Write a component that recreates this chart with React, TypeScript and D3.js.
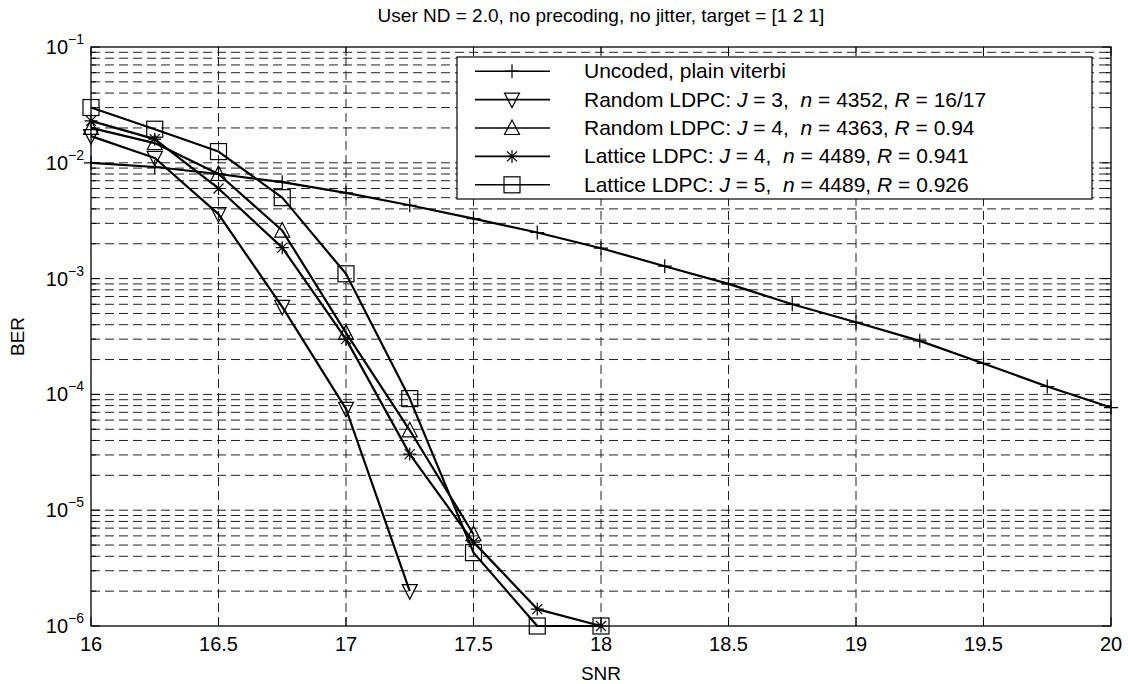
import React from "react";
import * as d3 from "d3";

// SNR grid shared by the coded curves
const snrCoded = [16, 16.25, 16.5, 16.75, 17, 17.25, 17.5, 17.75, 18];
const snrUncoded = [16, 16.25, 16.5, 16.75, 17, 17.25, 17.5, 17.75, 18, 18.25, 18.5, 18.75, 19, 19.25, 19.5, 19.75, 20];

const berUncoded = [1.0e-2, 9.2e-3, 8.0e-3, 6.8e-3, 5.5e-3, 4.3e-3, 3.3e-3, 2.5e-3, 1.83e-3, 1.28e-3, 9.0e-4, 6.0e-4, 4.2e-4, 2.9e-4, 1.85e-4, 1.17e-4, 7.7e-5];
const berRandomJ3 = [1.7e-2, 1.1e-2, 3.6e-3, 5.7e-4, 7.5e-5, 2.0e-6];
const berRandomJ4 = [2.0e-2, 1.48e-2, 8.0e-3, 2.6e-3, 3.4e-4, 4.9e-5, 6.2e-6];
const berLatticeJ4 = [2.3e-2, 1.6e-2, 6.0e-3, 1.85e-3, 3.0e-4, 3.05e-5, 5.3e-6, 1.4e-6, 1.0e-6];
const berLatticeJ5 = [3.0e-2, 1.95e-2, 1.25e-2, 5.0e-3, 1.1e-3, 9.2e-5, 4.3e-6, 1.0e-6, 1.0e-6];

const xTicks = [16, 16.5, 17, 17.5, 18, 18.5, 19, 19.5, 20];
const yDecades = [-1, -2, -3, -4, -5, -6];

const titleText = "User ND = 2.0, no precoding, no jitter, target = [1 2 1]";

type Marker = "plus" | "tdown" | "tup" | "star" | "square";

type Series = {
  marker: Marker;
  snr: number[];
  ber: number[];
  label: { pre: string; parts?: [string, string][] };
};

const series: Series[] = [
  { marker: "plus", snr: snrUncoded, ber: berUncoded, label: { pre: "Uncoded, plain viterbi" } },
  {
    marker: "tdown", snr: snrCoded.slice(0, berRandomJ3.length), ber: berRandomJ3,
    label: { pre: "Random LDPC: ", parts: [["J", " = 3,  "], ["n", " = 4352, "], ["R", " = 16/17"]] },
  },
  {
    marker: "tup", snr: snrCoded.slice(0, berRandomJ4.length), ber: berRandomJ4,
    label: { pre: "Random LDPC: ", parts: [["J", " = 4,  "], ["n", " = 4363, "], ["R", " = 0.94"]] },
  },
  {
    marker: "star", snr: snrCoded.slice(0, berLatticeJ4.length), ber: berLatticeJ4,
    label: { pre: "Lattice LDPC: ", parts: [["J", " = 4,  "], ["n", " = 4489, "], ["R", " = 0.941"]] },
  },
  {
    marker: "square", snr: snrCoded.slice(0, berLatticeJ5.length), ber: berLatticeJ5,
    label: { pre: "Lattice LDPC: ", parts: [["J", " = 5,  "], ["n", " = 4489, "], ["R", " = 0.926"]] },
  },
];

const W = 1128;
const H = 684;
const plot = { left: 91, right: 1111, top: 47, bottom: 626 };
const FONT = "'Liberation Sans', Arial, Helvetica, sans-serif";

function MarkerShape({ type, x, y }: { type: Marker; x: number; y: number }) {
  const common = { fill: "none", stroke: "#000", strokeWidth: 1.2 };
  switch (type) {
    case "plus":
      return <path d={`M${x - 7},${y}H${x + 7}M${x},${y - 7}V${y + 7}`} {...common} />;
    case "tdown":
      return <path d={`M${x - 7.5},${y - 6.5}H${x + 7.5}L${x},${y + 8}Z`} {...common} />;
    case "tup":
      return <path d={`M${x - 7.5},${y + 6.5}H${x + 7.5}L${x},${y - 8}Z`} {...common} />;
    case "star":
      return (
        <path
          d={`M${x - 6.5},${y}H${x + 6.5}M${x},${y - 6.5}V${y + 6.5}M${x - 5},${y - 5}L${x + 5},${y + 5}M${x - 5},${y + 5}L${x + 5},${y - 5}`}
          {...common}
        />
      );
    case "square":
      return <rect x={x - 8} y={y - 8} width={16} height={16} {...common} />;
  }
}

export default function App() {
  const x = d3.scaleLinear().domain([16, 20]).range([plot.left, plot.right]);
  const y = d3.scaleLog().domain([1e-6, 1e-1]).range([plot.bottom, plot.top]);

  const minorVals: number[] = [];
  for (let e = -6; e < -1; e++) {
    for (let m = 2; m <= 9; m++) minorVals.push(m * Math.pow(10, e));
  }
  const majorVals = yDecades.map((e) => Math.pow(10, e));

  const line = d3
    .line<[number, number]>()
    .x((d) => x(d[0]))
    .y((d) => y(d[1]));

  const dash = "9,5";
  const gridColor = "#222";

  const legend = { left: 457, right: 1092, top: 57, bottom: 199 };
  const rowH = (legend.bottom - legend.top) / 5;

  return (
    <svg width={W} height={H} style={{ position: "absolute", left: 0, top: 0, background: "#fff" }}>
      <rect x={0} y={0} width={W} height={H} fill="#fff" />
      {/* grid */}
      <g stroke={gridColor} strokeWidth={1} strokeDasharray={dash} fill="none">
        {xTicks.slice(1, -1).map((t) => (
          <line key={"vx" + t} x1={x(t)} x2={x(t)} y1={plot.bottom} y2={plot.top} />
        ))}
        {[...majorVals.slice(1, -1), ...minorVals].map((v, i) => (
          <line key={"hy" + i} x1={plot.left} x2={plot.right} y1={y(v)} y2={y(v)} />
        ))}
      </g>
      {/* ticks */}
      <g stroke="#000" strokeWidth={1}>
        {xTicks.map((t) => (
          <g key={"tx" + t}>
            <line x1={x(t)} x2={x(t)} y1={plot.bottom} y2={plot.bottom - 9} />
            <line x1={x(t)} x2={x(t)} y1={plot.top} y2={plot.top + 9} />
          </g>
        ))}
        {majorVals.map((v, i) => (
          <g key={"ty" + i}>
            <line x1={plot.left} x2={plot.left + 9} y1={y(v)} y2={y(v)} />
            <line x1={plot.right} x2={plot.right - 9} y1={y(v)} y2={y(v)} />
          </g>
        ))}
        {minorVals.map((v, i) => (
          <g key={"tm" + i}>
            <line x1={plot.left} x2={plot.left + 5} y1={y(v)} y2={y(v)} />
            <line x1={plot.right} x2={plot.right - 5} y1={y(v)} y2={y(v)} />
          </g>
        ))}
      </g>
      {/* series */}
      {series.map((s, i) => {
        const pts = s.snr.map((v, j) => [v, s.ber[j]] as [number, number]);
        return (
          <g key={"s" + i}>
            <path d={line(pts) || ""} fill="none" stroke="#000" strokeWidth={2.2} strokeLinejoin="round" />
            {pts.map((p, j) => (
              <MarkerShape key={j} type={s.marker} x={x(p[0])} y={y(p[1])} />
            ))}
          </g>
        );
      })}
      {/* axes box */}
      <rect
        x={plot.left}
        y={plot.top}
        width={plot.right - plot.left}
        height={plot.bottom - plot.top}
        fill="none"
        stroke="#000"
        strokeWidth={1.3}
      />
      {/* tick labels */}
      <g fontFamily={FONT} fontSize={20} fill="#000">
        {xTicks.map((t) => (
          <text key={"lx" + t} x={x(t)} y={plot.bottom + 25} textAnchor="middle">
            {String(t)}
          </text>
        ))}
        {yDecades.map((e) => (
          <text key={"ly" + e} x={plot.left - 7} y={y(Math.pow(10, e)) + 7} textAnchor="end">
            <tspan>10</tspan>
            <tspan dy={-10} fontSize={14}>
              {"\u2212" + Math.abs(e)}
            </tspan>
          </text>
        ))}
      </g>
      {/* axis titles */}
      <text x={(plot.left + plot.right) / 2} y={680} textAnchor="middle" fontFamily={FONT} fontSize={19}>
        SNR
      </text>
      <text
        transform={`translate(24,${(plot.top + plot.bottom) / 2}) rotate(-90)`}
        textAnchor="middle"
        fontFamily={FONT}
        fontSize={19}
      >
        BER
      </text>
      <text x={(plot.left + plot.right) / 2} y={22} textAnchor="middle" fontFamily={FONT} fontSize={19}>
        {titleText}
      </text>
      {/* legend */}
      <rect
        x={legend.left}
        y={legend.top}
        width={legend.right - legend.left}
        height={legend.bottom - legend.top}
        fill="#fff"
        stroke="#000"
        strokeWidth={1.2}
      />
      {series.map((s, i) => {
        const cy = legend.top + rowH * (i + 0.5);
        return (
          <g key={"lg" + i}>
            <line x1={475} x2={550} y1={cy} y2={cy} stroke="#000" strokeWidth={1.6} />
            <MarkerShape type={s.marker} x={512} y={cy} />
            <text x={584} y={cy + 7} fontFamily={FONT} fontSize={21}>
              <tspan>{s.label.pre}</tspan>
              {s.label.parts?.map(([v, rest], k) => (
                <React.Fragment key={k}>
                  <tspan fontStyle="italic">{v}</tspan>
                  <tspan style={{ whiteSpace: "pre" }}>{rest}</tspan>
                </React.Fragment>
              ))}
            </text>
          </g>
        );
      })}
    </svg>
  );
}
